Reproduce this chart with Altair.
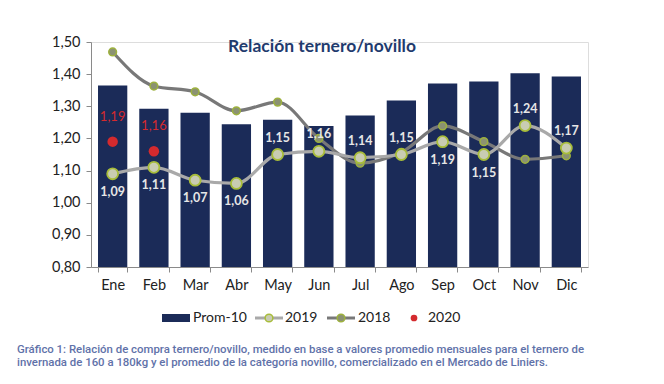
import altair as alt
import pandas as pd

months = ["Ene", "Feb", "Mar", "Abr", "May", "Jun", "Jul", "Ago", "Sep", "Oct", "Nov", "Dic"]
prom10 = [1.365, 1.292, 1.280, 1.244, 1.258, 1.239, 1.271, 1.318, 1.371, 1.377, 1.403, 1.393]
v2019 = [1.09, 1.11, 1.07, 1.06, 1.15, 1.16, 1.14, 1.15, 1.19, 1.15, 1.24, 1.17]
v2018 = [1.469, 1.363, 1.345, 1.286, 1.313, 1.200, 1.123, 1.157, 1.239, 1.190, 1.135, 1.146]
months2020 = ["Ene", "Feb"]
v2020 = [1.19, 1.16]
below_2019 = ["Ene", "Feb", "Mar", "Abr", "Sep", "Oct"]
y_ticks = [0.8, 0.9, 1.0, 1.1, 1.2, 1.3, 1.4, 1.5]

title_text = "Relación ternero/novillo"
caption_lines = [
    "Gráfico 1: Relación de compra ternero/novillo, medido en base a valores promedio mensuales para el ternero de",
    "invernada de 160 a 180kg y el promedio de la categoría novillo, comercializado en el Mercado de Liniers.",
]

NAVY = "#1b2b58"
RED = "#d42a2e"
FONT = "Lato"

df = pd.DataFrame({"mes": months, "prom": prom10, "v2019": v2019, "v2018": v2018})
df["lab2019"] = [f"{v:.2f}".replace(".", ",") for v in v2019]
df["below"] = [m in below_2019 for m in months]
d20 = pd.DataFrame({"mes": months2020, "v": v2020})
d20["lab"] = [f"{v:.2f}".replace(".", ",") for v in v2020]

W, H = 497, 225

xaxis = alt.Axis(labelAngle=0, labelFont=FONT, labelFontSize=14.5, labelColor="#222",
                 domainColor="#8a8a8a", tickColor="#8a8a8a", tickSize=5,
                 tickBand="extent", labelPadding=6, grid=False, title=None)
xscale = alt.Scale(paddingInner=0.29, paddingOuter=0.17)
yscale = alt.Scale(domain=[0.8, 1.5], nice=False, zero=False)
yaxis = alt.Axis(values=y_ticks,
                 labelExpr="replace(format(datum.value, '.2f'), '.', ',')",
                 labelFont=FONT, labelFontSize=14.5, labelColor="#222",
                 domainColor="#8a8a8a", tickColor="#8a8a8a", tickSize=5,
                 labelPadding=6, grid=False, title=None, labelOverlap=False)


def X():
    return alt.X("mes:N", sort=months, title=None, scale=xscale, axis=xaxis)


def Y(f):
    return alt.Y(f, scale=yscale, axis=yaxis, title=None)


base = alt.Chart(df)
bars = base.mark_bar(color=NAVY).encode(x=X(), y=Y("prom:Q"), y2=alt.datum(0.8))

line18 = base.mark_line(color="#787878", strokeWidth=3.2, interpolate="monotone").encode(x=X(), y=Y("v2018:Q"))
pts18 = base.mark_point(filled=True, fill="#8b9272", stroke="#9db13e", strokeWidth=1.5,
                        size=60, opacity=1).encode(x=X(), y=Y("v2018:Q"))
line19 = base.mark_line(color="#a9a9a9", strokeWidth=3.2, interpolate="monotone").encode(x=X(), y=Y("v2019:Q"))
pts19 = base.mark_point(filled=True, fill="#c9ccb2", stroke="#a8bd3a", strokeWidth=1.8,
                        size=120, opacity=1).encode(x=X(), y=Y("v2019:Q"))

lab_above = base.transform_filter("!datum.below").mark_text(
    font=FONT, fontSize=12.5, fontWeight="bold", color="#e6e6e6", dy=-17).encode(
    x=X(), y=Y("v2019:Q"), text="lab2019:N")
lab_below = base.transform_filter("datum.below").mark_text(
    font=FONT, fontSize=12.5, fontWeight="bold", color="#e6e6e6", dy=18).encode(
    x=X(), y=Y("v2019:Q"), text="lab2019:N")

c20 = alt.Chart(d20)
pts20 = c20.mark_circle(color=RED, size=110, opacity=1).encode(x=X(), y=Y("v:Q"))
lab20 = c20.mark_text(font=FONT, fontSize=13, color=RED, dy=-25).encode(
    x=X(), y=Y("v:Q"), text="lab:N")

one = alt.Chart(pd.DataFrame({"a": [0]}))
title = one.mark_text(text=title_text, font=FONT, fontSize=17.5, fontWeight="bold",
                      color="#1f3b6e", align="center", baseline="middle").encode(
    x=alt.value(231), y=alt.value(5))

LY = 276
leg = [
    one.mark_rect(color=NAVY).encode(x=alt.value(71), x2=alt.value(99), y=alt.value(LY - 4), y2=alt.value(LY + 4)),
    one.mark_text(text="Prom-10", font=FONT, fontSize=14, color="#222", align="left", baseline="middle").encode(
        x=alt.value(102), y=alt.value(LY)),
    one.mark_rule(color="#a9a9a9", strokeWidth=3).encode(x=alt.value(164), x2=alt.value(192), y=alt.value(LY)),
    one.mark_point(filled=True, fill="#c9ccb2", stroke="#a8bd3a", strokeWidth=1.5, size=60, opacity=1).encode(
        x=alt.value(178), y=alt.value(LY)),
    one.mark_text(text="2019", font=FONT, fontSize=14, color="#222", align="left", baseline="middle").encode(
        x=alt.value(194), y=alt.value(LY)),
    one.mark_rule(color="#787878", strokeWidth=3).encode(x=alt.value(236), x2=alt.value(264), y=alt.value(LY)),
    one.mark_point(filled=True, fill="#8b9272", stroke="#9db13e", strokeWidth=1.5, size=60, opacity=1).encode(
        x=alt.value(250), y=alt.value(LY)),
    one.mark_text(text="2018", font=FONT, fontSize=14, color="#222", align="left", baseline="middle").encode(
        x=alt.value(267), y=alt.value(LY)),
    one.mark_circle(color=RED, size=45, opacity=1).encode(x=alt.value(323), y=alt.value(LY)),
    one.mark_text(text="2020", font=FONT, fontSize=14, color="#222", align="left", baseline="middle").encode(
        x=alt.value(337), y=alt.value(LY)),
]
caps = [
    one.mark_text(text=t, font="Roboto", fontSize=11.4, fontWeight=500, color="#5f72a9",
                  align="left", baseline="middle").encode(x=alt.value(-74), y=alt.value(yy))
    for t, yy in zip(caption_lines, [308, 321])
]

chart = alt.layer(bars, line18, line19, pts18, pts19, lab_above, lab_below, pts20, lab20, title,
                  *leg, *caps).properties(
    width=W, height=H,
    autosize=alt.AutoSizeParams(type="none"),
    padding={"left": 83, "top": 34, "right": 60, "bottom": 110},
).configure_view(stroke=None).configure(background="white")

chart.save("out.html", embed_options={"renderer": "svg", "actions": False})
